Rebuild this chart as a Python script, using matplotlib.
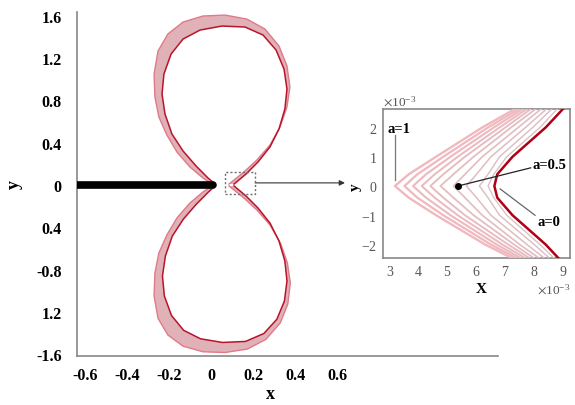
import numpy as np
import matplotlib
matplotlib.use("Agg")
import matplotlib.pyplot as plt
from matplotlib.patches import Rectangle

plt.rcParams['font.family'] = ['Liberation Serif', 'DejaVu Serif']
plt.rcParams['axes.unicode_minus'] = False
plt.rcParams['mathtext.fontset'] = 'stix'

# ---------------- main panel data ----------------
x_ticks = [-0.6, -0.4, -0.2, 0, 0.2, 0.4, 0.6]
x_tick_labels = ['-0.6', '-0.4', '-0.2', '0', '0.2', '0.4', '0.6']
y_ticks = [1.6, 1.2, 0.8, 0.4, 0, -0.4, -0.8, -1.2, -1.6]
y_tick_labels = ['1.6', '1.2', '0.8', '0.4', '0', '0.4', '-0.8', '1.2', '-1.6']

tail_x = [-0.64, 0.01]
tail_y = [0.0, 0.0]

# upper loop, a = 0 (inner edge of band)
upper_a0_x = [0.110, 0.167, 0.224, 0.281, 0.324, 0.352, 0.362, 0.348, 0.310, 0.248, 0.162, 0.052,
              -0.052, -0.133, -0.190, -0.224, -0.233, -0.219, -0.186, -0.133, -0.071, -0.014, 0.014]
upper_a0_y = [0.009, 0.104, 0.218, 0.360, 0.530, 0.719, 0.908, 1.097, 1.277, 1.419, 1.495, 1.504,
              1.466, 1.381, 1.239, 1.050, 0.861, 0.672, 0.483, 0.322, 0.180, 0.066, 0.019]
# upper loop, a = 1 (outer edge of band)
upper_a1_x = [0.086, 0.157, 0.219, 0.281, 0.329, 0.362, 0.376, 0.362, 0.324, 0.257, 0.171, 0.067,
              -0.038, -0.133, -0.205, -0.252, -0.271, -0.267, -0.248, -0.210, -0.162, -0.100, -0.038, 0.005]
upper_a1_y = [0.009, 0.123, 0.237, 0.378, 0.549, 0.738, 0.927, 1.126, 1.315, 1.476, 1.570, 1.608,
              1.599, 1.542, 1.429, 1.268, 1.050, 0.833, 0.643, 0.473, 0.312, 0.170, 0.066, 0.009]
# lower loop, a = 0
lower_a0_x = [0.110, 0.167, 0.224, 0.281, 0.324, 0.352, 0.362, 0.350, 0.314, 0.252, 0.165, 0.055,
              -0.050, -0.130, -0.188, -0.222, -0.231, -0.217, -0.184, -0.131, -0.069, -0.012, 0.014]
lower_a0_y = [-0.009, -0.104, -0.218, -0.360, -0.530, -0.719, -0.908, -1.097, -1.270, -1.405, -1.480, -1.490,
              -1.455, -1.375, -1.235, -1.050, -0.861, -0.672, -0.483, -0.322, -0.180, -0.066, -0.019]
# lower loop, a = 1
lower_a1_x = [0.086, 0.157, 0.219, 0.281, 0.331, 0.364, 0.378, 0.366, 0.330, 0.262, 0.174, 0.067,
              -0.038, -0.133, -0.205, -0.252, -0.271, -0.267, -0.248, -0.210, -0.162, -0.100, -0.038, 0.005]
lower_a1_y = [-0.009, -0.123, -0.237, -0.378, -0.549, -0.738, -0.927, -1.126, -1.305, -1.460, -1.552, -1.585,
              -1.578, -1.525, -1.420, -1.262, -1.050, -0.833, -0.643, -0.473, -0.312, -0.170, -0.066, -0.009]

zoom_box = (0.067, -0.085, 0.143, 0.208)   # x0, y0, width, height (data units)

# ---------------- inset data (units of 1e-3) ----------------
SCALE = 1e-3
inset_a = [1.0, 0.9, 0.8, 0.7, 0.6, 0.5, 0.4, 0.3, 0.2, 0.1, 0.0]
inset_y = [3.0, 2.0, 1.0, 0.4, 0.0, -0.4, -1.0, -2.0, -3.0]
inset_x = [
    [8.0, 6.2, 4.6, 3.65, 3.17, 3.65, 4.6, 6.3, 8.3],
    [8.1, 6.4, 4.85, 3.95, 3.5, 3.95, 4.85, 6.5, 8.4],
    [8.2, 6.6, 5.1, 4.25, 3.8, 4.25, 5.1, 6.7, 8.5],
    [8.3, 6.8, 5.35, 4.55, 4.1, 4.55, 5.35, 6.9, 8.6],
    [8.4, 7.0, 5.6, 4.85, 4.4, 4.85, 5.6, 7.1, 8.7],
    [8.55, 7.2, 5.9, 5.2, 4.75, 5.2, 5.9, 7.3, 8.8],
    [8.7, 7.45, 6.2, 5.6, 5.2, 5.6, 6.2, 7.5, 8.95],
    [8.85, 7.7, 6.5, 6.0, 5.65, 6.0, 6.5, 7.75, 9.05],
    [9.0, 7.95, 6.8, 6.4, 6.1, 6.4, 6.8, 8.0, 9.15],
    [9.15, 8.2, 7.05, 6.6, 6.4, 6.6, 7.05, 8.2, 9.25],
    [9.35, 8.4, 7.25, 6.72, 6.62, 6.72, 7.25, 8.4, 9.35],
]
inset_xticks = [3, 4, 5, 6, 7, 8, 9]
inset_yticks = [-2, -1, 0, 1, 2]
dot_x, dot_y = 5.36, 0.0

# ---------------- figure ----------------
W, H = 575, 406
fig = plt.figure(figsize=(W / 100, H / 100), dpi=100)
ax = fig.add_axes([77 / W, 1 - 357 / H, 421 / W, 344 / H])

ax.set_xlim(-0.638, 1.367)
ax.set_ylim(-1.618, 1.637)

band_col = '#dca4ac'
dark_red = '#b8142a'
for ox, oy, ix, iy in [(upper_a1_x, upper_a1_y, upper_a0_x, upper_a0_y),
                       (lower_a1_x, lower_a1_y, lower_a0_x, lower_a0_y)]:
    px = list(ox) + list(ix)[::-1]
    py = list(oy) + list(iy)[::-1]
    ax.fill(px, py, color=band_col, alpha=0.85, lw=0, zorder=2)
    ax.plot(ox, oy, color='#e07a88', lw=1.0, zorder=3)
    ax.plot(ix, iy, color=dark_red, lw=1.1, zorder=3)

ax.plot(tail_x, tail_y, color='black', lw=5.5, solid_capstyle='round', zorder=4)

ax.add_patch(Rectangle((zoom_box[0], zoom_box[1]), zoom_box[2], zoom_box[3],
                       fill=False, ls=(0, (1.5, 1.5)), lw=1.0, ec='#707070', zorder=5))
ax.annotate('', xy=(0.638, 0.02), xytext=(zoom_box[0] + zoom_box[2], 0.02),
            arrowprops=dict(arrowstyle='-|>', color='#333333', lw=0.8,
                            mutation_scale=8, shrinkA=0, shrinkB=0),
            annotation_clip=False)

for s in ['top', 'right']:
    ax.spines[s].set_visible(False)
for s in ['left', 'bottom']:
    ax.spines[s].set_color('#888888')
    ax.spines[s].set_linewidth(1.2)

ax.set_xticks(x_ticks)
ax.set_xticklabels(x_tick_labels)
ax.set_yticks(y_ticks)
ax.set_yticklabels(y_tick_labels)
ax.tick_params(axis='x', length=0, pad=8)
ax.tick_params(axis='y', length=0, pad=11)
for lab in ax.get_xticklabels() + ax.get_yticklabels():
    lab.set_fontweight('bold')
    lab.set_fontsize(11.5)

ax.set_xlabel('x', fontsize=13, fontweight='bold')
ax.xaxis.set_label_coords((270 - 77) / 421, -0.085)
ax.set_ylabel('y', fontsize=13, fontweight='bold')
ax.yaxis.set_label_coords((23 - 77) / 421, 0.5)

# ---------------- inset ----------------
ax2 = fig.add_axes([383 / W, 1 - 259 / H, 187 / W, 149 / H])
ax2.set_xlim(2.757 * SCALE, 9.243 * SCALE)
ax2.set_ylim(-2.46 * SCALE, 2.63 * SCALE)

for a, xs in zip(inset_a, inset_x):
    xv = [v * SCALE for v in xs]
    yv = [v * SCALE for v in inset_y]
    if a == 0.0:
        col, lw, z = '#b00018', 1.8, 4
    else:
        t = a
        c1 = np.array([0.84, 0.76, 0.77])
        c2 = np.array([0.95, 0.72, 0.75])
        col = tuple(c1 * (1 - t) + c2 * t)
        lw = 0.9 + 0.8 * t
        z = 3
    ax2.plot(xv, yv, color=col, lw=lw, zorder=z)

ax2.plot([3.17 * SCALE, 3.17 * SCALE], [1.75 * SCALE, 0.2 * SCALE], color='#777777', lw=0.9, zorder=5)
ax2.plot([dot_x * SCALE, 7.88 * SCALE], [dot_y * SCALE, 0.62 * SCALE], color='#222222', lw=0.9, zorder=5)
ax2.plot([6.82 * SCALE, 8.03 * SCALE], [-0.1 * SCALE, -1.0 * SCALE], color='#666666', lw=0.9, zorder=5)
ax2.plot([dot_x * SCALE], [dot_y * SCALE], 'o', color='black', ms=4, zorder=6)

ax2.text(2.93 * SCALE, 1.95 * SCALE, 'a=1', fontsize=10.5, fontweight='bold', ha='left', va='center')
ax2.text(7.93 * SCALE, 0.75 * SCALE, 'a=0.5', fontsize=10.5, fontweight='bold', ha='left', va='center')
ax2.text(8.1 * SCALE, -1.23 * SCALE, 'a=0', fontsize=10.5, fontweight='bold', ha='left', va='center')

ax2.set_xticks([v * SCALE for v in inset_xticks])
ax2.set_yticks([v * SCALE for v in inset_yticks])
ax2.ticklabel_format(style='sci', scilimits=(-3, -3), useMathText=True)
ax2.tick_params(length=0, labelsize=10, labelcolor='#555555')
ax2.tick_params(axis='x', pad=4)
ax2.tick_params(axis='y', pad=4)
ax2.xaxis.get_offset_text().set_fontsize(9.5)
ax2.xaxis.get_offset_text().set_color('#555555')
ax2.yaxis.get_offset_text().set_fontsize(9.5)
ax2.yaxis.get_offset_text().set_color('#555555')
for s in ax2.spines.values():
    s.set_color('#888888')
    s.set_linewidth(1.2)

ax2.set_xlabel('X', fontsize=11, fontweight='bold')
ax2.xaxis.set_label_coords(0.524, -0.16)
ax2.set_ylabel('y', fontsize=11, fontweight='bold')
ax2.yaxis.set_label_coords(-0.115, 0.48)

fig.savefig('out.png', dpi=100)
